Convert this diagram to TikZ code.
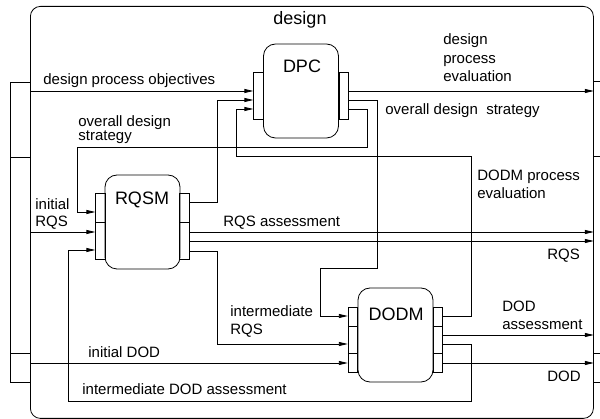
\documentclass[tikz,border=0pt]{standalone}
\usepackage{fontspec}
\setmainfont{Liberation Sans}
\usetikzlibrary{arrows.meta}

\begin{document}
\begin{tikzpicture}[x=1pt, y=-1pt, line width=0.8pt,
  lbl/.style={font=\fontsize{15}{18.5}\selectfont, inner sep=0pt, anchor=base west, align=left},
  ttl/.style={font=\fontsize{18}{20}\selectfont, inner sep=0pt, anchor=base},
  module/.style={draw, rounded corners=12pt, minimum width=75pt, minimum height=94pt, inner sep=0pt},
  portstrip/.style={draw, minimum width=9.5pt, inner sep=0pt},
  arr/.style={-{Triangle[length=9pt,width=4pt]}},
]
\useasboundingbox (0,0) rectangle (600,419);

% enclosing activity "design" with its boundary ports
\node[draw, rounded corners=10pt, minimum width=563pt, minimum height=412pt,
      inner sep=0pt, anchor=north west] (frame) at (30,6) {};
\node[draw, minimum width=20pt, minimum height=300pt, inner sep=0pt,
      anchor=north west] (inL) at (10,82) {};
\node[draw, minimum width=20pt, minimum height=301pt, inner sep=0pt,
      anchor=north west] (outR) at (593,81) {};
\draw (10,157) -- (30,157) (10,353) -- (30,353);
\draw (593,156) -- (613,156) (593,353) -- (613,353);
\node[ttl] (tdesign) at (300,25) {design};

% sub-activities
\node[module] (dpc) at (301,91) {};
\node[portstrip, minimum height=47pt] (dpcL) at (258.5,95.5) {};
\node[portstrip, minimum height=47pt] (dpcR) at (344,95.5) {};
\node[ttl] (tdpc) at (302,73) {DPC};

\node[module] (rqsm) at (142.5,222) {};
\node[portstrip, minimum height=66pt] (rqsmL) at (100.5,226) {};
\node[portstrip, minimum height=66pt] (rqsmR) at (184.5,226) {};
\draw (rqsmL.west |- 0,222) -- (rqsmL.east |- 0,222);
\draw (rqsmR.west |- 0,222) -- (rqsmR.east |- 0,222);
\node[ttl] (trqsm) at (142,205) {RQSM};

\node[module] (dodm) at (395.5,335) {};
\node[portstrip, minimum height=65pt] (dodmL) at (353,339.5) {};
\node[portstrip, minimum height=65pt] (dodmR) at (438,339.5) {};
\foreach \yy in {326,353}{
  \draw (dodmL.west |- 0,\yy) -- (dodmL.east |- 0,\yy);
  \draw (dodmR.west |- 0,\yy) -- (dodmR.east |- 0,\yy);
}
\node[ttl] (tdodm) at (396,321) {DODM};

% external inputs
\coordinate (inDPO) at (30,91);
\coordinate (inRQS) at (30,232);
\coordinate (inDOD) at (30,363);
\draw[arr] (inDPO) -- (dpcL.west |- inDPO);
\draw[arr] (inRQS) -- (rqsmL.west |- inRQS);
\draw[arr] (inDOD) -- (dodmL.west |- inDOD);

% outputs to the boundary
\draw[arr] (dpcR.east |- 0,91) -- (frame.east |- 0,91);
\draw[arr] (rqsmR.east |- 0,232) -- (frame.east |- 0,232);
\draw[arr] (rqsmR.east |- 0,241) -- (frame.east |- 0,241);
\draw[arr] (dodmR.east |- 0,335) -- (frame.east |- 0,335);
\draw[arr] (dodmR.east |- 0,363) -- (frame.east |- 0,363);

% internal flows
\draw[arr] (rqsmR.east |- 0,202) -- (217,202) -- (217,100) -- (dpcL.west |- 0,100);
\draw[arr] (dodmR.east |- 0,316) -- (471,316) -- (471,156) -- (236,156) -- (236,109)
           -- (dpcL.west |- 0,109);
\draw[arr] (dpcR.east |- 0,100) -- (377,100) -- (377,268) -- (320,268) -- (320,316)
           -- (dodmL.west |- 0,316);
\draw[arr] (dpcR.east |- 0,109) -- (367,109) -- (367,147) -- (77,147) -- (77,212)
           -- (rqsmL.west |- 0,212);
\draw[arr] (dodmR.east |- 0,344) -- (471,344) -- (471,401) -- (68,401) -- (68,250)
           -- (rqsmL.west |- 0,250);
\draw[arr] (rqsmR.east |- 0,251) -- (217,251) -- (217,344) -- (dodmL.west |- 0,344);

% flow labels (base anchor = baseline of the last line)
\node[lbl] (l1) at (43,85) {design process objectives};
\node[lbl, font=\fontsize{15}{14.5}\selectfont] (l2) at (78,141) {overall design\\strategy};
\node[lbl, font=\fontsize{15}{17}\selectfont] (l3) at (35,227) {initial\\RQS};
\node[lbl] (l4) at (443,82) {design\\process\\evaluation};
\node[lbl] (l5) at (385,115) {overall design~\ strategy};
\node[lbl] (l6) at (477,199) {DODM process\\evaluation};
\node[lbl] (l7) at (223,227) {RQS assessment};
\node[lbl] (l8) at (547,260) {RQS};
\node[lbl] (l9) at (230,335) {intermediate\\RQS};
\node[lbl] (l10) at (502,330) {DOD\\assessment};
\node[lbl] (l11) at (547,382) {DOD};
\node[lbl] (l12) at (88,358) {initial DOD};
\node[lbl] (l13) at (82,395) {intermediate DOD assessment};
\end{tikzpicture}
\end{document}
